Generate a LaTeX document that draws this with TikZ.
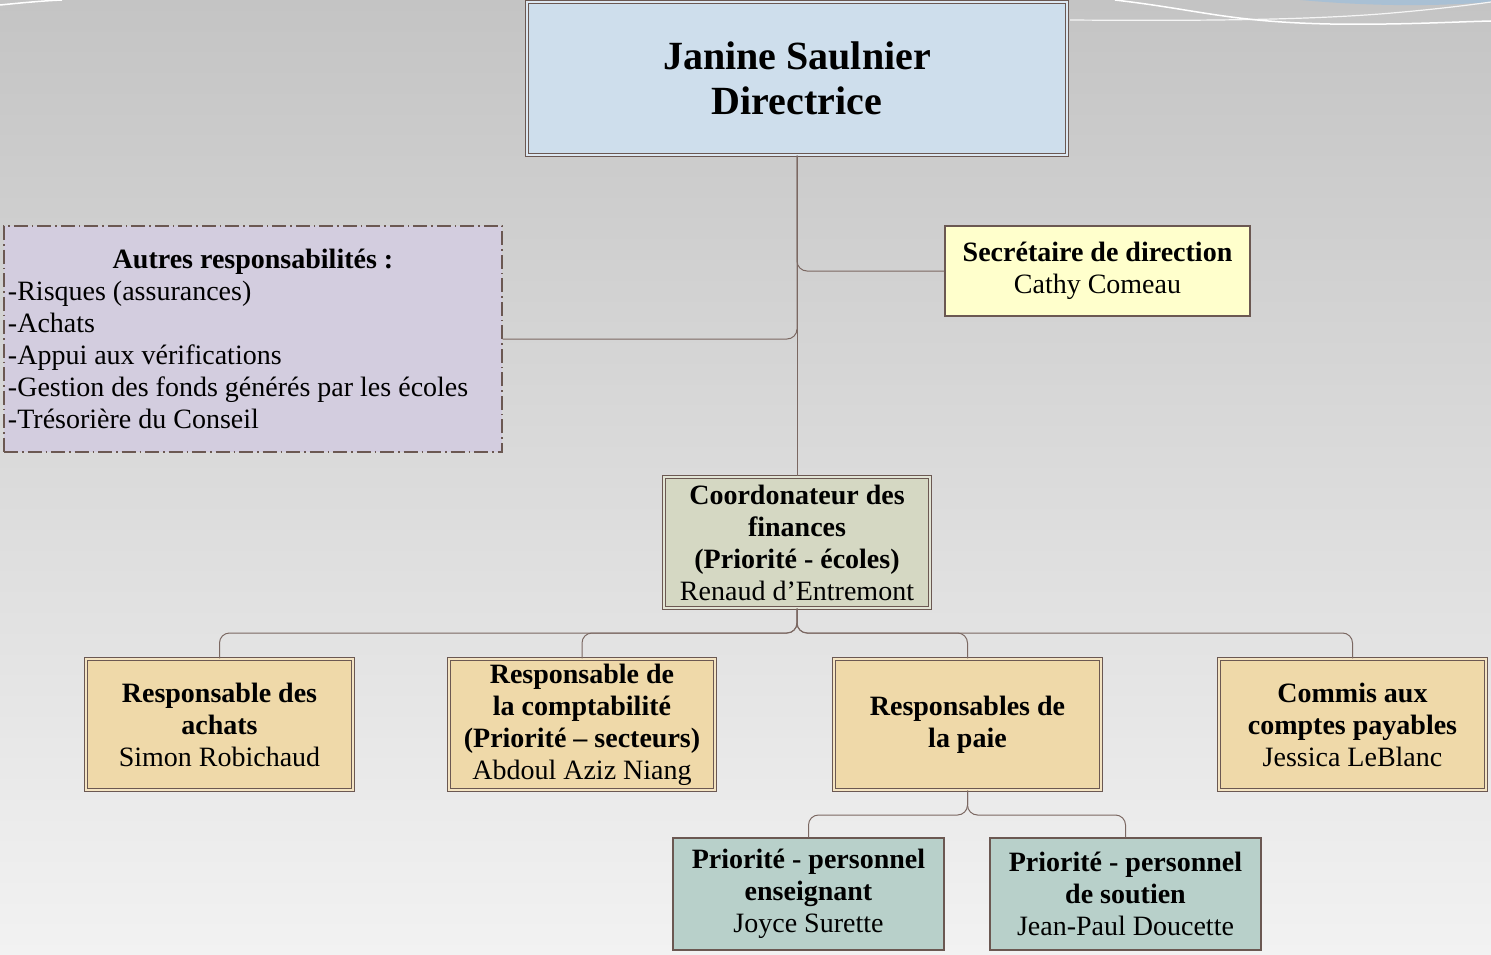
\documentclass[tikz,border=0pt]{standalone}
\usepackage{fontspec}
\setmainfont{Liberation Serif}
\usepackage{xcolor}
\usepackage{tikz}
\usetikzlibrary{shapes, arrows.meta}

\definecolor{fondhaut}{HTML}{C4C4C4}
\definecolor{fondbas}{HTML}{F2F2F2}
\definecolor{bordure}{HTML}{6B5852}
\definecolor{liencol}{HTML}{7B6862}
\definecolor{bleudir}{HTML}{CEDEEC}
\definecolor{lavande}{HTML}{D3CDDF}
\definecolor{jaunesec}{HTML}{FFFFCC}
\definecolor{vertclair}{HTML}{D5D8C3}
\definecolor{beige}{HTML}{EFD9A9}
\definecolor{vertgris}{HTML}{B8D0CA}
\definecolor{bleuciel}{HTML}{A9C0D4}

\tikzset{
  boite/.style={inner sep=4pt, align=center, font=\fontsize{28}{32}\selectfont},
  cadredouble/.style={boite, fill=#1, draw=bordure, line width=1.3pt, double=#1!70!white, double distance=2.2pt},
  cadresimple/.style={boite, fill=#1, draw=bordure, line width=1.4pt},
  autre/.style={boite, fill=lavande, draw=bordure, line width=1.4pt,
    dash pattern=on 14pt off 4pt on 1.5pt off 4pt},
  lien/.style={draw=liencol, line width=1pt, rounded corners=10pt}
}

\begin{document}
\begin{tikzpicture}[x=1pt, y=-1pt]
        % Fond
        \useasboundingbox (0,0) rectangle (1491,955);
        \fill[top color=fondhaut, bottom color=fondbas] (0,0) rectangle (1491,955);
        % Motif du haut
        \fill[bleuciel] (1300,0) .. controls (1380,7) and (1440,6) .. (1491,2) -- (1491,0) -- cycle;
        \draw[white, line width=1.5pt] (0,5) .. controls (20,3) and (40,1) .. (62,0);
        \draw[white!92!gray, line width=1.2pt] (1070,20) .. controls (1200,21) and (1300,20) .. (1380,14) .. controls (1430,10) and (1470,5) .. (1491,2);
        \draw[white, line width=1.5pt] (1115,0) .. controls (1200,10) and (1230,22) .. (1330,24) .. controls (1400,25) and (1450,22) .. (1491,21);

        % Direction
        \node[cadredouble=bleudir, minimum width=540pt, minimum height=153pt,
              font=\fontsize{40}{45}\selectfont\bfseries] (dir) at (797,78.5) {Janine Saulnier\\Directrice};
        \node[autre, minimum width=498pt, minimum height=226pt, align=left] (autres) at (253,339)
          {\makebox[490pt]{\bfseries Autres responsabilités :}\\-Risques (assurances)\\-Achats\\-Appui aux vérifications\\-Gestion des fonds générés par les écoles\\-Trésorière du Conseil};
        \node[cadresimple=jaunesec, minimum width=305pt, minimum height=90pt] (sec) at (1097.5,271)
          {\textbf{Secrétaire de direction}\\Cathy Comeau};

        % Finances
        \node[cadredouble=vertclair, minimum width=266pt, minimum height=131pt] (coord) at (797,542.5)
          {\textbf{Coordonateur des}\\\textbf{finances}\\\textbf{(Priorité - écoles)}\\Renaud d’Entremont};

        % Responsables
        \node[cadredouble=beige, minimum width=267pt, minimum height=131pt] (achats) at (219.5,724.5)
          {\textbf{Responsable des}\\\textbf{achats}\\Simon Robichaud};
        \node[cadredouble=beige, minimum width=266pt, minimum height=131pt] (compta) at (582,724.5)
          {\textbf{Responsable de}\\\textbf{la comptabilité}\\\textbf{(Priorité – secteurs)}\\Abdoul Aziz Niang};
        \node[cadredouble=beige, minimum width=267pt, minimum height=131pt] (paie) at (967.5,724.5)
          {\textbf{Responsables de}\\\textbf{la paie}};
        \node[cadredouble=beige, minimum width=267pt, minimum height=131pt] (commis) at (1352.5,724.5)
          {\textbf{Commis aux}\\\textbf{comptes payables}\\Jessica LeBlanc};

        % Paie
        \node[cadresimple=vertgris, minimum width=271pt, minimum height=112pt] (ens) at (808.5,894)
          {\textbf{Priorité - personnel}\\\textbf{enseignant}\\Joyce Surette};
        \node[cadresimple=vertgris, minimum width=271pt, minimum height=112pt] (sout) at (1125.5,894)
          {\textbf{Priorité - personnel}\\\textbf{de soutien}\\Jean-Paul Doucette};

        % Liens
        \coordinate (fourche1) at (797,633);
        \coordinate (fourche2) at (967.5,815);
        \draw[lien] (dir.south) |- (sec.west);
        \draw[lien] (dir.south) |- (autres.east);
        \draw[lien] (dir.south) -- (coord.north);
        \foreach \n in {achats, compta, paie, commis}
          \draw[lien] (coord.south) -- (fourche1) -| (\n.north);
        \foreach \n in {ens, sout}
          \draw[lien] (paie.south) -- (fourche2) -| (\n.north);
\end{tikzpicture}
\end{document}
